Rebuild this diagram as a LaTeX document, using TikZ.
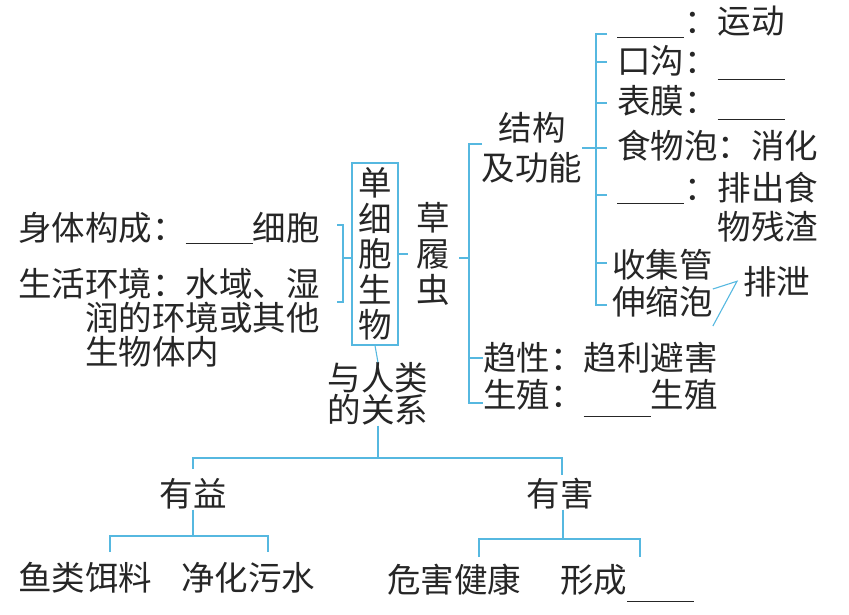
\documentclass[tikz,border=0pt]{standalone}
\usepackage{fontspec}
\newfontfamily\cjk{Noto Sans CJK SC}
\usepackage{xcolor}
\usetikzlibrary{positioning}
\definecolor{LinkCyan}{HTML}{56B8E0}
\definecolor{InkGray}{HTML}{262626}
\newcommand{\gapline}[1][-0.12em]{\rule[#1]{2em}{0.9pt}}

\begin{document}
\begin{tikzpicture}[
    x=1pt, y=-1pt,
    txt/.style={
      font=\fontsize{33.5}{34}\selectfont\cjk,
      text=InkGray, inner sep=0pt,
      anchor=base west, align=left
    },
    vert/.style={
      txt, anchor=center, align=center
    },
    lnk/.style={LinkCyan, line width=1.1pt}
  ]
    \useasboundingbox (0,0) rectangle (849,615);

    %% Left side
    \node[txt] (body) at (18,240) {身体构成：\gapline 细胞};
    \node[txt] (env) at (18,364) {生活环境：水域、湿\\\hspace*{2em}润的环境或其他\\\hspace*{2em}生物体内};

    %% Center
    \node[vert, draw=LinkCyan, line width=1.1pt, minimum width=46pt, minimum height=182pt,
      font=\fontsize{33.5}{35.5}\selectfont\cjk] (dan) at (375,254) {单\\细\\胞\\生\\物};
    \node[vert, font=\fontsize{33.5}{36}\selectfont\cjk] (cao) at (433,254) {草\\履\\虫};
    \node[vert, font=\fontsize{33.5}{32}\selectfont\cjk] (yu) at (378,394) {与人类\\的关系};

    %% Structure and function
    \node[vert, font=\fontsize{33.5}{40}\selectfont\cjk] (jg) at (532,148) {结构\\及功能};
    \node[txt] (bianmao) at (617,34) {\gapline：运动};
    \node[txt] (kougou) at (617,74) {口沟：\gapline[-0.17em]};
    \node[txt] (biaomo) at (617,114) {表膜：\gapline[-0.17em]};
    \node[txt] (shiwu) at (617,159) {食物泡：消化};
    \node[txt, font=\fontsize{33.5}{39}\selectfont\cjk] (baomen) at (617,239) {\gapline：排出食\\\hspace*{3em}物残渣};
    \node[txt] (shouji) at (612,277) {收集管};
    \node[txt] (shensuo) at (612,314) {伸缩泡};
    \node[txt] (paixie) at (743,294) {排泄};
    \node[txt] (quxing) at (483,370) {趋性：趋利避害};
    \node[txt] (shengzhi) at (483,407) {生殖：\gapline[-0.3em]生殖};

    %% Relation with people
    \node[vert] (youyi) at (193,494) {有益};
    \node[vert] (youhai) at (560,494) {有害};
    \node[txt] (yuliao) at (18,590) {鱼类饵料};
    \node[txt] (jinghua) at (181,590) {净化污水};
    \node[txt] (weihai) at (387,592) {危害健康};
    \node[txt] (xingcheng) at (560,592) {形成\gapline[-0.3em]};

    %% Brackets
    \draw[lnk] (337,225) -| (343,302) -- (337,302);
    \draw[lnk] (343,258) -- (dan.west |- 0,258);
    \draw[lnk] (dan.east |- 0,254) -- (408,254);
    \draw[lnk] (482,144) -| (469,403) -- (quxing.west |- 0,403);
    \draw[lnk] (459,258) -- (469,258);
    \draw[lnk] (469,358) -- (quxing.west |- 0,358);
    \draw[lnk] (607,34) -| (596,305) -- (607,305);
    \foreach \yy in {62,103,148,195,263}
      \draw[lnk] (596,\yy) -- (607,\yy);
    \draw[lnk] (jg.east |- 0,148) -- (596,148);
    \draw[lnk] ([yshift=-12pt]shouji.base east) -- ([xshift=-6pt]paixie.west) -- ([yshift=-12pt]shensuo.base east);

    %% Tree below
    \draw[lnk] (dan.south) -- (yu.north);
    \draw[lnk] (yu.south) -- (yu.south |- 0,458);
    \draw[lnk] (193,469) |- (562,458) -- (562,475);
    \draw[lnk] (youyi.south) -- (193,536);
    \draw[lnk] (110,552) |- (268,536) -- (268,552);
    \draw[lnk] (youhai.south -| 563,0) -- (563,539);
    \draw[lnk] (479,557) |- (640,539) -- (640,557);
  \end{tikzpicture}
\end{document}
